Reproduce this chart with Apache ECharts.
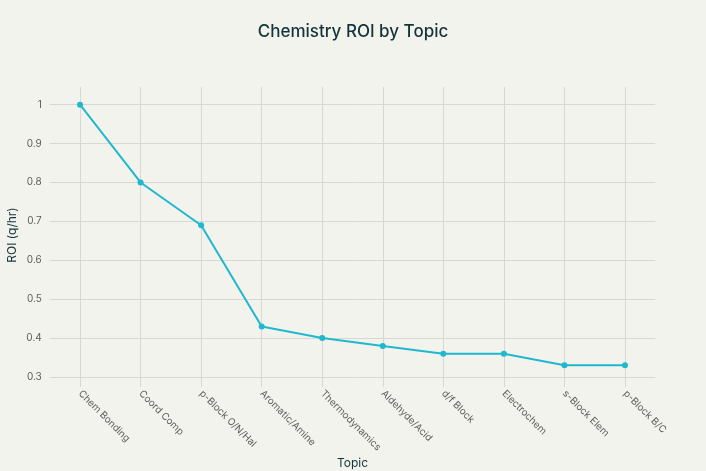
<!DOCTYPE html>
<html><head><meta charset="utf-8">
<script src="https://cdn.jsdelivr.net/npm/echarts@6/dist/echarts.min.js"></script>
<style>html,body{margin:0;padding:0;background:#f3f3ee;}#c{width:706px;height:471px;}</style>
</head><body><div id="c"></div>
<script>
const categories = ["Chem Bonding","Coord Comp","p-Block O/N/Hal","Aromatic/Amine","Thermodynamics","Aldehyde/Acid","d/f Block","Electrochem","s-Block Elem","p-Block B/C"];
const roiValues = [1.0,0.80,0.69,0.43,0.40,0.38,0.36,0.36,0.33,0.33];
const yTicks = [0.3,0.4,0.5,0.6,0.7,0.8,0.9,1];

const chart = echarts.init(document.getElementById('c'));
const font = 'Inter, "Noto Sans", sans-serif';
const gridColor = '#d8d8d3';
chart.setOption({
  backgroundColor:'#f3f3ee',
  animation:false,
  title:{text:'Chemistry ROI by Topic',left:'center',top:18,textStyle:{fontFamily:font,fontSize:17,fontWeight:500,color:'#13343b'}},
  grid:{left:49.75,right:50.75,top:87,bottom:88,containLabel:false,outerBoundsMode:'none'},
  xAxis:{type:'category',data:categories,boundaryGap:true,
    name:'Topic',nameLocation:'middle',nameGap:74,nameMoveOverlap:false,nameTextStyle:{fontFamily:font,fontSize:12,color:'#13343b'},
    axisLine:{show:false},
    axisTick:{show:true,alignWithLabel:true,length:4,lineStyle:{color:gridColor}},
    axisLabel:{interval:0,rotate:-45,margin:9,fontFamily:font,fontSize:9.8,color:'#5c5c5c'},
    splitLine:{show:false}
  },
  yAxis:{type:'value',min:0.2846,max:1.0454,
    name:'ROI (q/hr)',nameLocation:'middle',nameGap:31,nameMoveOverlap:false,nameTextStyle:{fontFamily:font,fontSize:12,color:'#13343b'},
    axisLine:{show:false},axisTick:{show:false},
    axisLabel:{fontFamily:font,fontSize:10,color:'#5c5c5c',margin:8,
      customValues:yTicks,formatter:v=>String(+v.toFixed(2))},
    splitLine:{show:false}
  },
  series:[
    {type:'line',data:[],silent:true,z:1,
      markLine:{silent:true,symbol:'none',label:{show:false},animation:false,
        lineStyle:{color:gridColor,width:1,type:'solid'},
        data:yTicks.map(v=>({yAxis:v})).concat(categories.map(c=>({xAxis:c})))}},
    {type:'line',data:roiValues,symbol:'circle',symbolSize:6,z:5,
      lineStyle:{color:'#1fb8cd',width:2},itemStyle:{color:'#1fb8cd'}}
  ]
});
</script></body></html>
